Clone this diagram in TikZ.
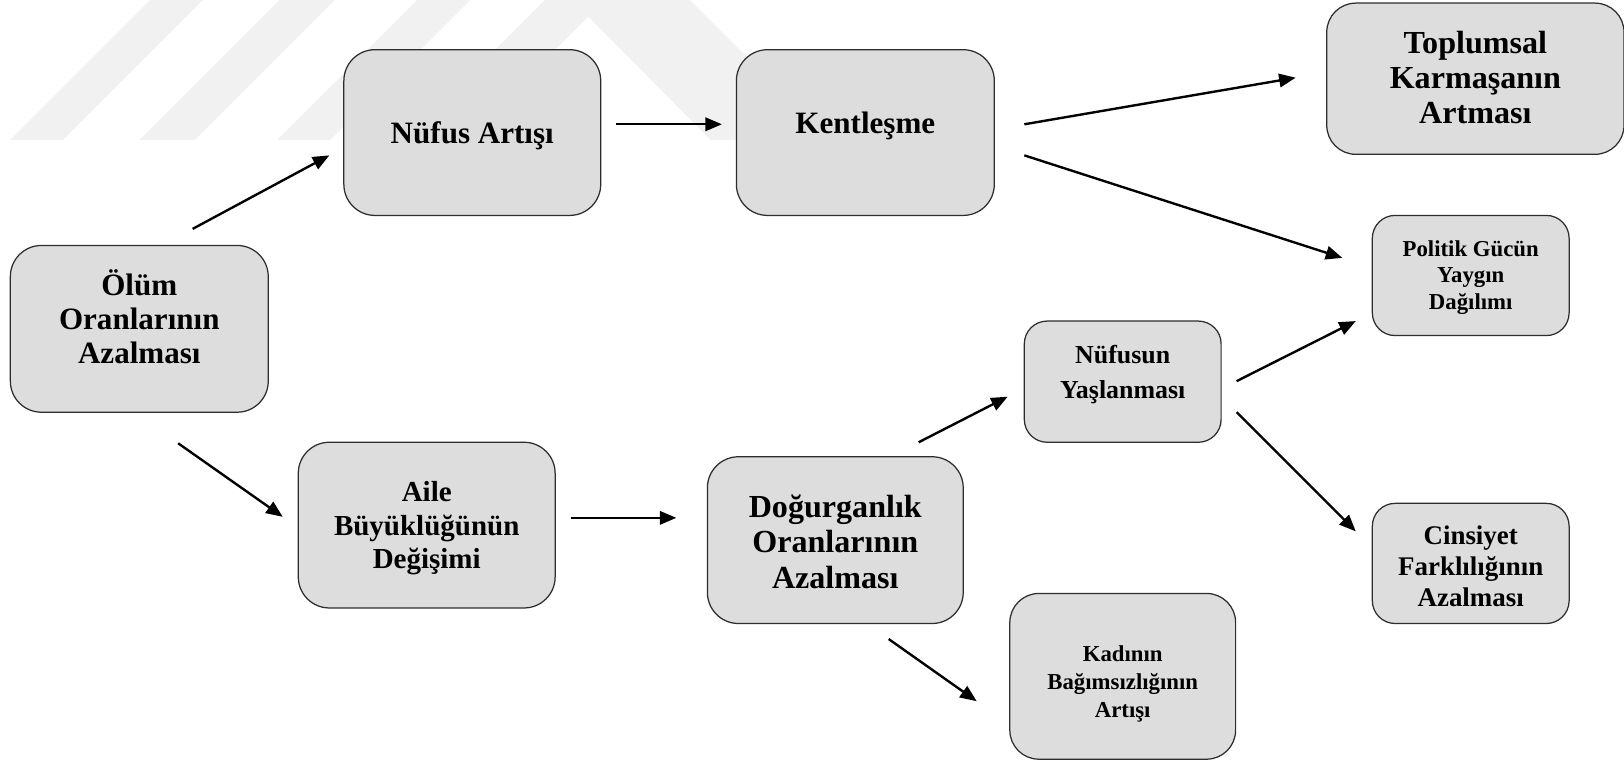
\documentclass[tikz,border=0pt]{standalone}
\usepackage{fontspec}
\setmainfont{Liberation Serif}
\usetikzlibrary{arrows.meta,calc}
\definecolor{boxfill}{RGB}{221,221,221}
\definecolor{boxline}{RGB}{45,45,45}
\definecolor{wmark}{RGB}{241,241,241}
\tikzset{
  box/.style={draw=boxline, line width=1.2pt, fill=boxfill, inner sep=0pt, outer sep=0pt},
  txt/.style={align=center, inner sep=0pt, font=\bfseries},
  conn/.style={line width=2.3pt, -{Triangle[length=16pt,width=13pt]}},
}
\begin{document}
\begin{tikzpicture}[x=1pt,y=-1pt]
\useasboundingbox (0,0) rectangle (1568,735);
\fill[white] (0,0) rectangle (1568,735);
% faint watermark
\begin{scope}
\clip (0,0) rectangle (1568,735);
\fill[wmark] (145,0) -- (196,0) -- (61,135) -- (10,135) -- cycle;
\fill[wmark] (270,0) -- (323,0) -- (188,135) -- (135,135) -- cycle;
\fill[wmark] (403,0) -- (454,0) -- (319,135) -- (268,135) -- cycle;
\fill[wmark] (391,135) -- (596,-70) -- (801,135) -- (686,135) -- (568,16) -- (449,135) -- cycle;
\end{scope}
% boxes
\node[box, minimum width=249pt, minimum height=161pt, rounded corners=30pt] (A) at (134.5,317.5) {};
\node[box, minimum width=248pt, minimum height=160pt, rounded corners=30pt] (B) at (456,128) {};
\node[box, minimum width=249pt, minimum height=160pt, rounded corners=30pt] (C) at (835.5,128) {};
\node[box, minimum width=287pt, minimum height=146pt, rounded corners=28pt] (D) at (1424.5,76) {};
\node[box, minimum width=248pt, minimum height=160pt, rounded corners=30pt] (E) at (412,507) {};
\node[box, minimum width=247pt, minimum height=161pt, rounded corners=30pt] (F) at (806.5,521.5) {};
\node[box, minimum width=190pt, minimum height=117pt, rounded corners=22pt] (G) at (1084,368.5) {};
\node[box, minimum width=190pt, minimum height=116pt, rounded corners=22pt] (H) at (1420,266) {};
\node[box, minimum width=190pt, minimum height=116pt, rounded corners=22pt] (I) at (1420,544) {};
\node[box, minimum width=218pt, minimum height=160pt, rounded corners=28pt] (J) at (1084,653) {};
% texts
\node[txt, font=\bfseries\fontsize{30}{33}\selectfont] (At) at (134.5,306) {Ölüm\\Oranlarının\\Azalması};
\node[txt, font=\bfseries\fontsize{30}{33}\selectfont] (Bt) at (456,131) {Nüfus Artışı};
\node[txt, font=\bfseries\fontsize{30}{33}\selectfont] (Ct) at (835.5,122) {Kentleşme};
\node[txt, font=\bfseries\fontsize{31}{34}\selectfont] (Dt) at (1424.5,75) {Toplumsal\\Karmaşanın\\Artması};
\node[txt, font=\bfseries\fontsize{28}{32}\selectfont] (Et) at (412,510) {Aile\\Büyüklüğünün\\Değişimi};
\node[txt, font=\bfseries\fontsize{31}{34}\selectfont] (Ft) at (806.5,523) {Doğurganlık\\Oranlarının\\Azalması};
\node[txt, font=\bfseries\fontsize{25}{34}\selectfont] (Gt) at (1084,362) {Nüfusun\\Yaşlanması};
\node[txt, font=\bfseries\fontsize{22}{26}\selectfont] (Ht) at (1420,268) {Politik Gücün\\Yaygın\\Dağılımı};
\node[txt, font=\bfseries\fontsize{26}{30}\selectfont] (It) at (1420,547) {Cinsiyet\\Farklılığının\\Azalması};
\node[txt, font=\bfseries\fontsize{22}{27}\selectfont] (Jt) at (1084,660) {Kadının\\Bağımsızlığının\\Artışı};
% connectors
\draw[conn] ($(A.north)+(51.5,-16)$) -- ($(B.west)+(-14,22)$);
\draw[conn] ($(A.south)+(37.5,30)$) -- ($(E.west)+(-15,-8)$);
\draw[conn] ($(B.east)+(15,-8)$) -- ($(C.west)+(-14,-8)$);
\draw[conn] ($(C.east)+(29,-8)$) -- ($(D.west)+(-30,-1)$);
\draw[conn] ($(C.east)+(29,22)$) -- ($(H.west)+(-29,-17)$);
\draw[conn] ($(E.east)+(15,-7)$) -- ($(F.west)+(-30,-21.5)$);
\draw[conn] ($(F.north)+(80.5,-14)$) -- ($(G.west)+(-16,14.5)$);
\draw[conn] ($(F.south)+(51.5,15)$) -- ($(J.west)+(-32,24)$);
\draw[conn] ($(G.east)+(15,-0.5)$) -- ($(H.west)+(-16,44)$);
\draw[conn] ($(G.east)+(15,29.5)$) -- ($(I.west)+(-16,-31)$);
\end{tikzpicture}
\end{document}
